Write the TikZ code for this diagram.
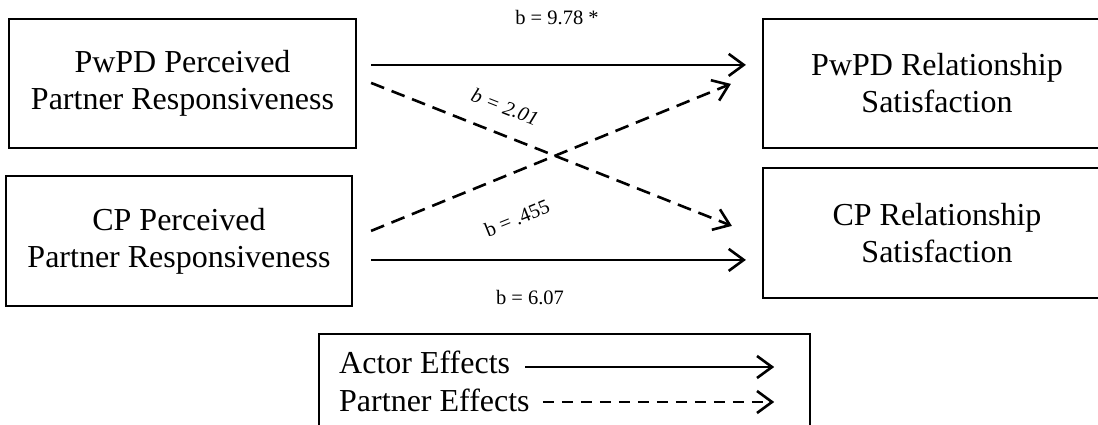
\documentclass[tikz,border=0pt]{standalone}
\usepackage{fontspec}
\setmainfont{Liberation Serif}
\usetikzlibrary{arrows.meta}
\tikzset{
  varbox/.style={draw, line width=2.2pt, inner sep=0pt, align=center,
    font=\fontsize{32}{37}\selectfont},
  effect/.style={line width=2.6pt, -{Straight Barb[length=15pt,width=22pt,line width=2.6pt]}},
  partnerfx/.style={effect, dash pattern=on 14pt off 8pt},
  lbl/.style={font=\fontsize{20.5}{24}\selectfont, inner sep=0pt},
  legtxt/.style={font=\fontsize{32}{37}\selectfont, inner sep=0pt, anchor=base west}
}
\begin{document}
\begin{tikzpicture}[x=1pt,y=-1pt]
\clip (0,0) rectangle (1098,425);
\fill[white] (0,0) rectangle (1098,425);
\node[varbox, minimum width=347pt, minimum height=129pt] (pw) at (182.5,83.5) {PwPD Perceived\\Partner Responsiveness};
\node[varbox, minimum width=346pt, minimum height=130pt] (cp) at (179,241) {CP Perceived\\Partner Responsiveness};
\node[varbox, minimum width=348pt, minimum height=129pt] (pwrs) at (937,83.5) {PwPD Relationship\\Satisfaction};
\node[varbox, minimum width=348pt, minimum height=130pt] (cprs) at (937,233) {CP Relationship\\Satisfaction};

\draw[effect] ([shift={(14,47)}]pw.north east) -- ([shift={(-16,47)}]pwrs.north west);
\draw[partnerfx] ([shift={(14,65)}]pw.north east) -- ([shift={(-30,59)}]cprs.north west);
\draw[partnerfx] ([shift={(18,56)}]cp.north east) -- ([shift={(-31,66)}]pwrs.north west);
\draw[effect] ([shift={(18,85)}]cp.north east) -- ([shift={(-16,93)}]cprs.north west);

\node[lbl] (l1) at (557,18) {b = 9.78 *};
\node[lbl, rotate=-21.5] (l2) at (505,107) {\itshape b = 2.01};
\node[lbl, rotate=22] (l3) at (517,218) {b = .455};
\node[lbl] (l4) at (530,298) {b = 6.07};

\node[draw, line width=2.2pt, minimum width=491pt, minimum height=120pt, inner sep=0pt, anchor=north west] (legend) at (318,333) {};
\node[legtxt] (actor) at (339,373) {Actor Effects};
\node[legtxt] (partner) at (339,411) {Partner Effects};
\draw[effect] ([shift={(15,-6)}]actor.base east) -- ([shift={(-37,34)}]legend.north east);
\draw[effect, dash pattern=on 11pt off 8pt] ([shift={(13,-9)}]partner.base east) -- ([shift={(-37,69)}]legend.north east);
\end{tikzpicture}
\end{document}
